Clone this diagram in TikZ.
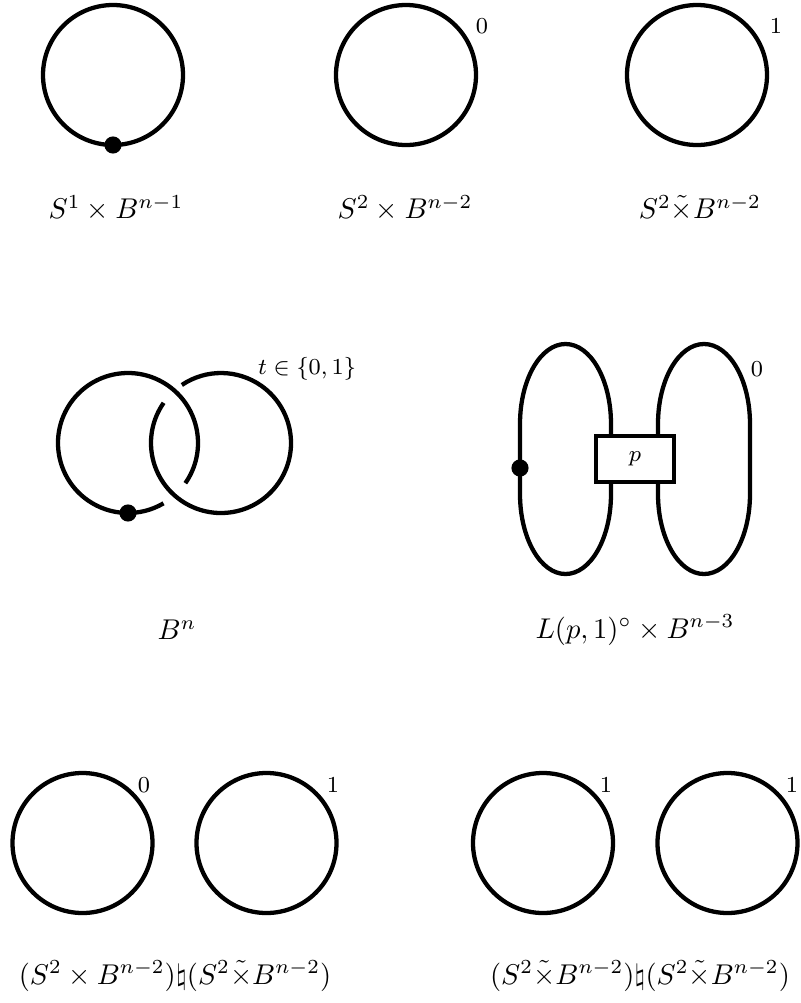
\documentclass[tikz,border=0pt]{standalone}
\usepackage{amsmath,amssymb}
\usepackage{tikz}
\usetikzlibrary{positioning,calc}

\begin{document}
\begin{tikzpicture}[x=3.5pt, y=3.5pt,
    knot/.style={line width=1.5pt},
    knotdot/.style={circle, fill=black, inner sep=0pt, minimum size=6pt},
    frame/.style={draw, line width=1.5pt, fill=white, minimum width=27.3pt, minimum height=16.1pt, inner sep=0pt},
    coef/.style={font=\footnotesize}]

  \useasboundingbox (0,0) rectangle (80.1,-100.3);

  % First row: single unknots
  \coordinate (a1) at (11.3,-7.5);
  \coordinate (a2) at (40.6,-7.5);
  \coordinate (a3) at (69.7,-7.5);
  \draw[knot] (a1) circle[radius=7];
  \draw[knot] (a2) circle[radius=7];
  \draw[knot] (a3) circle[radius=7];
  \node[knotdot] (a1dot) at ($(a1)+(0,-7)$) {};
  \node[coef] (a2fr) at (48.2,-2.6) {$0$};
  \node[coef] (a3fr) at (77.6,-2.6) {$1$};
  \node (a1cap) at (11.6,-20.8) {$S^1 \times B^{n-1}$};
  \node (a2cap) at (40.5,-20.8) {$S^2 \times B^{n-2}$};
  \node (a3cap) at (70.0,-20.8) {$S^2 \tilde{\times} B^{n-2}$};

  % Second row, left: dotted circle linked with a framed circle
  \coordinate (h1) at (12.8,-44.3);
  \coordinate (h2) at (22.1,-44.3);
  \draw[knot] ($(h1)+(-35:7)$) arc[start angle=-35, end angle=300.5, radius=7];
  \draw[knot] ($(h2)+(145:7)$) arc[start angle=145, end angle=484, radius=7];
  \node[knotdot] (h1dot) at ($(h1)+(0,-7)$) {};
  \node[coef] (h2fr) at (30.7,-36.9) {$t \in \{0,1\}$};
  \node (hcap) at (17.7,-63.0) {$B^n$};

  % Second row, right: two long loops through a box
  \draw[knot] (52.0,-49.4) -- (52.0,-42.4)
    arc[start angle=180, end angle=0, x radius=4.55, y radius=8] -- (61.1,-49.4)
    arc[start angle=0, end angle=-180, x radius=4.55, y radius=8] -- cycle;
  \draw[knot] (65.8,-49.4) -- (65.8,-42.4)
    arc[start angle=180, end angle=0, x radius=4.6, y radius=8] -- (75.0,-49.4)
    arc[start angle=0, end angle=-180, x radius=4.6, y radius=8] -- cycle;
  \node[frame] (box) at (63.5,-45.9) {\footnotesize $p$};
  \node[knotdot] (l1dot) at (52.0,-46.8) {};
  \node[coef] (l2fr) at (75.7,-36.9) {$0$};
  \node (lcap) at (63.5,-63.0) {$L(p,1)^{\circ} \times B^{n-3}$};

  % Third row: pairs of unknots
  \coordinate (b1) at (8.25,-84.3);
  \coordinate (b2) at (26.65,-84.3);
  \coordinate (b3) at (54.3,-84.3);
  \coordinate (b4) at (72.75,-84.3);
  \draw[knot] (b1) circle[radius=7];
  \draw[knot] (b2) circle[radius=7];
  \draw[knot] (b3) circle[radius=7];
  \draw[knot] (b4) circle[radius=7];
  \node[coef] (b1fr) at (14.4,-78.5) {$0$};
  \node[coef] (b2fr) at (33.3,-78.5) {$1$};
  \node[coef] (b3fr) at (60.6,-78.5) {$1$};
  \node[coef] (b4fr) at (79.2,-78.5) {$1$};
  \node (bcap1) at (17.5,-97.6) {$(S^2 \times B^{n-2})\natural(S^2 \tilde{\times} B^{n-2})$};
  \node (bcap2) at (64.0,-97.6) {$(S^2 \tilde{\times} B^{n-2})\natural(S^2 \tilde{\times} B^{n-2})$};

\end{tikzpicture}
\end{document}
